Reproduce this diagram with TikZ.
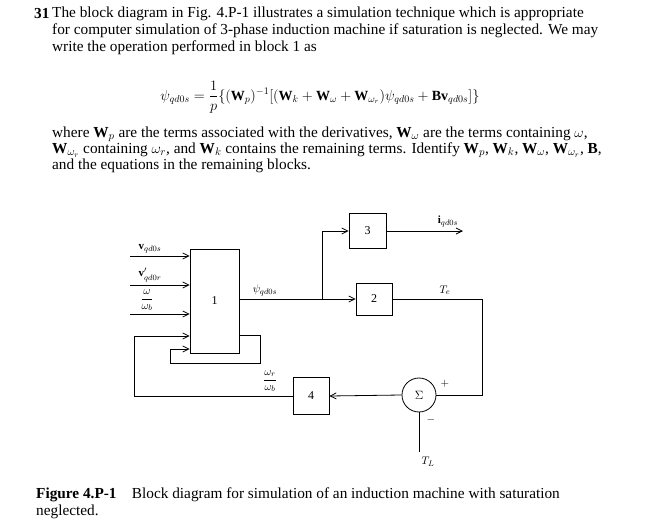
\documentclass[tikz,border=0pt]{standalone}
\usepackage{amsmath}
\usepackage{fontspec}
\setmainfont{Liberation Serif}
\usetikzlibrary{arrows.meta}
\begin{document}
\begin{tikzpicture}[x=1pt,y=-1pt,
  blk/.style={draw,thick,minimum width=0pt,font=\fontsize{12}{14}\selectfont},
  ar/.style={-{Straight Barb[length=6pt,width=6pt]},thick},
  ln/.style={thick},
  txt/.style={anchor=west,inner sep=0pt,font=\fontsize{15.3}{17}\selectfont},
  lab/.style={inner sep=1pt,font=\fontsize{11}{12}\selectfont}]
\useasboundingbox (0,0) rectangle (657,530);
% text
\node[txt] (n31) at (34,14) {\textbf{31}};
\node[txt] (l1) at (52,14) {The block diagram in Fig. 4.P-1 illustrates a simulation technique which is appropriate};
\node[txt] (l2) at (52,31) {for computer simulation of 3-phase induction machine if saturation is neglected. We may};
\node[txt] (l3) at (52,48) {write the operation performed in block 1 as};
\node[inner sep=0pt,font=\fontsize{14}{16}\selectfont] (eq) at (320,97) {$\psi_{qd0s}=\dfrac{1}{p}\{(\mathbf{W}_p)^{-1}[(\mathbf{W}_k+\mathbf{W}_\omega+\mathbf{W}_{\omega_r})\psi_{qd0s}+\mathbf{B}\mathbf{v}_{qd0s}]\}$};
\node[txt] (p1) at (52,134) {where $\mathbf{W}_p$ are the terms associated with the derivatives, $\mathbf{W}_\omega$ are the terms containing $\omega$,};
\node[txt] (p2) at (52,150) {$\mathbf{W}_{\omega_r}$ containing $\omega_r$, and $\mathbf{W}_k$ contains the remaining terms. Identify $\mathbf{W}_p$, $\mathbf{W}_k$, $\mathbf{W}_\omega$, $\mathbf{W}_{\omega_r}$, $\mathbf{B}$,};
\node[txt] (p3) at (52,166) {and the equations in the remaining blocks.};
\node[txt] (c1) at (36,495) {\textbf{Figure 4.P-1}\quad Block diagram for simulation of an induction machine with saturation};
\node[txt] (c2) at (36,512) {neglected.};
% blocks
\node[blk,minimum width=49pt,minimum height=104pt] (b1) at (214.5,301) {1};
\node[blk,minimum width=36pt,minimum height=32pt] (b2) at (374,299) {2};
\node[blk,minimum width=37pt,minimum height=35pt] (b3) at (367.5,231) {3};
\node[blk,minimum width=36pt,minimum height=37pt] (b4) at (311,396) {4};
\node[draw,thick,circle,minimum size=34pt,inner sep=0pt,font=\fontsize{12}{14}\selectfont] (s) at (419,395) {$\Sigma$};
% inputs
\coordinate (i1) at (130,256); \coordinate (i2) at (130,285); \coordinate (i3) at (130,314);
\draw[ar] (i1) -- (i1 -| b1.west);
\draw[ar] (i2) -- (i2 -| b1.west);
\draw[ar] (i3) -- (i3 -| b1.west);
\node[lab,anchor=south] at (150,254) {$\mathbf{v}_{qd0s}$};
\node[lab,anchor=south] at (150,283) {$\mathbf{v}'_{qd0r}$};
\node[lab,anchor=south] at (147,312) {$\dfrac{\omega}{\omega_b}$};
% output psi
\coordinate (br) at (322,299);
\draw[ln] (b1.east |- br) -- (br);
\draw[ar] (br) -- (b2.west);
\draw[ar] (br) |- (b3.west);
\node[lab,anchor=south] at (265,297) {$\psi_{qd0s}$};
\coordinate (o3) at (463,231);
\draw[ar] (b3.east) -- (o3);
\node[lab,anchor=south] at (448,228) {$\mathbf{i}_{qd0s}$};
% Te
\coordinate (te) at (482,299);
\draw[ln] (b2.east) -- (te) |- (s.east);
\node[lab,anchor=south] at (445,296) {$T_e$};
\node[lab] at (445,384) {$+$};
\node[lab] at (431,420) {$-$};
\coordinate (tl) at (419,452);
\draw[ln] (tl) -- (s.south);
\node[lab] at (428,462) {$T_L$};
\draw[ar] (s.west) -- (b4.east);
% feedback
\coordinate (f1) at (134,399); \coordinate (f1b) at (134,336);
\draw[ar] (b4.west) -- (b4.west -| f1) -- (f1b) -- (f1b -| b1.west);
\node[lab,anchor=south] at (270,393) {$\dfrac{\omega_r}{\omega_b}$};
% self loop
\coordinate (s1) at (260,335); \coordinate (s2) at (170,363); \coordinate (s3) at (170,349);
\draw[ar] (s1 -| b1.east) -- (s1) |- (s2) -- (s3) -- (s3 -| b1.west);
\end{tikzpicture}
\end{document}
